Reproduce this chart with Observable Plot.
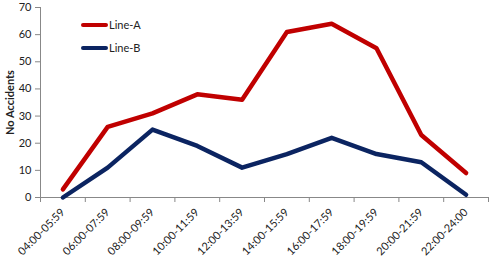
<!DOCTYPE html>
<html>
<head>
<meta charset="utf-8">
<script src="https://cdn.jsdelivr.net/npm/d3@7"></script>
<script src="https://cdn.jsdelivr.net/npm/@observablehq/plot@0.6"></script>
<style>
  html, body { margin: 0; padding: 0; background: #fff; }
  #wrap { position: relative; width: 489px; height: 269px; font-family: Lato, "Open Sans", sans-serif; }
  #legend { position: absolute; left: 81px; top: 13px; font-size: 11px; color: #222; }
  .item { display: flex; align-items: center; height: 23px; }
  .sw { width: 27px; height: 4px; border-radius: 2px; margin-right: 1px; }
</style>
</head>
<body>
<div id="wrap"></div>
<script>
const categories = ["04:00-05:59","06:00-07:59","08:00-09:59","10:00-11:59","12:00-13:59","14:00-15:59","16:00-17:59","18:00-19:59","20:00-21:59","22:00-24:00"];
const lineA = [3, 26, 31, 38, 36, 61, 64, 55, 23, 9];
const lineB = [0, 11, 25, 19, 11, 16, 22, 16, 13, 1];
const seriesNames = ["Line-A", "Line-B"];
const seriesColors = ["#c00000", "#0b2461"];
const yTicks = [0, 10, 20, 30, 40, 50, 60, 70];

const data = [];
[lineA, lineB].forEach((vals, s) => vals.forEach((v, i) => data.push({series: seriesNames[s], i, v})));
const idx = categories.map((_, i) => i);
const bounds = categories.map((_, i) => i - 0.5).concat([categories.length - 0.5]);

const plot = Plot.plot({
  width: 489, height: 269,
  marginLeft: 40, marginRight: 1, marginTop: 7, marginBottom: 72,
  style: {fontFamily: "Lato, 'Open Sans', sans-serif", fontSize: "11px", color: "#222"},
  x: {type: "linear", domain: [-0.5, categories.length - 0.5], axis: null},
  y: {domain: [0, 70], axis: null},
  color: {domain: seriesNames, range: seriesColors},
  marks: [
    Plot.axisY({ticks: yTicks, tickSize: 5, tickPadding: 4, stroke: "#888", label: "No Accidents", labelAnchor: "center", labelArrow: "none", labelOffset: 34, fontSize: 11}),
    Plot.axisX({ticks: bounds, tickSize: 5, tickFormat: () => "", stroke: "#888", label: null}),
    Plot.axisX({ticks: idx, tickSize: 0, tickRotate: -45, tickPadding: 13, textAnchor: "end", tickFormat: i => categories[i], fontSize: 11, label: null}),
    Plot.ruleY([0], {stroke: "#888"}),
    Plot.ruleX([-0.5], {stroke: "#888"}),
    Plot.line(data, {x: "i", y: "v", z: "series", stroke: "series", strokeWidth: 4.5, strokeLinejoin: "round", strokeLinecap: "round"})
  ]
});
const wrap = document.getElementById("wrap");
wrap.appendChild(plot);
plot.querySelectorAll("text").forEach(t => { if (t.textContent === "No Accidents") t.setAttribute("font-weight", "bold"); });

const legend = document.createElement("div");
legend.id = "legend";
seriesNames.forEach((n, k) => {
  const it = document.createElement("div");
  it.className = "item";
  const sw = document.createElement("span");
  sw.className = "sw"; sw.style.background = seriesColors[k];
  const lb = document.createElement("span"); lb.textContent = n;
  it.appendChild(sw); it.appendChild(lb);
  legend.appendChild(it);
});
wrap.appendChild(legend);
</script>
</body>
</html>
